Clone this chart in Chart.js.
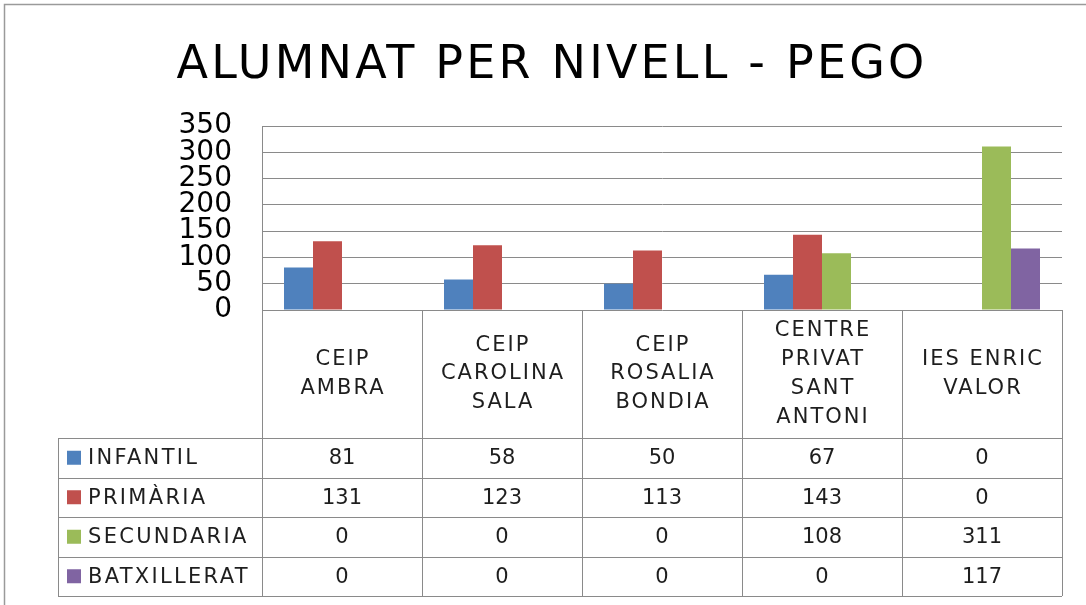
<!DOCTYPE html>
<html>
<head>
<meta charset="utf-8">
<script src="https://cdn.jsdelivr.net/npm/chart.js@4"></script>
<style>
  html, body { margin: 0; padding: 0; background: #fff; }
  #wrap { width: 1086px; height: 605px; }
</style>
</head>
<body>
<div id="wrap"><canvas id="myChart"></canvas></div>
<script>
// data
const chartTitle = "ALUMNAT PER NIVELL - PEGO";
const categories = [
    ["CEIP", "AMBRA"],
    ["CEIP", "CAROLINA", "SALA"],
    ["CEIP", "ROSALIA", "BONDIA"],
    ["CENTRE", "PRIVAT", "SANT", "ANTONI"],
    ["IES ENRIC", "VALOR"]
];
const seriesNames = ["INFANTIL", "PRIMÀRIA", "SECUNDARIA", "BATXILLERAT"];
const infantil = [81, 58, 50, 67, 0];
const primaria = [131, 123, 113, 143, 0];
const secundaria = [0, 0, 0, 108, 311];
const batxillerat = [0, 0, 0, 0, 117];
const seriesColors = ["#4F81BD", "#C0504D", "#9BBB59", "#8064A2"];

const FONT = '"DejaVu Sans", sans-serif';
const lineColor = "#8a8a8a";
const textColor = "#1e1e1e";

// white background, frame (top + left edge visible) and the title
const framePlugin = {
    id: 'frame',
    beforeDraw(chart) {
        const ctx = chart.ctx;
        ctx.save();
        ctx.fillStyle = "#fff";
        ctx.fillRect(0, 0, chart.width, chart.height);
        ctx.strokeStyle = "#9a9a9a";
        ctx.lineWidth = 1.5;
        ctx.beginPath();
        ctx.moveTo(4.5, chart.height);
        ctx.lineTo(4.5, 4.5);
        ctx.lineTo(chart.width, 4.5);
        ctx.stroke();

        // title, a bit spaced out like the original
        ctx.font = '46px ' + FONT;
        ctx.letterSpacing = '3.2px';
        ctx.fillStyle = '#000';
        ctx.textBaseline = 'alphabetic';
        ctx.textAlign = 'left';
        const w = ctx.measureText(chartTitle).width;
        ctx.fillText(chartTitle, 552 - w / 2, 78);
        ctx.restore();
    }
};

// Excel style data table under the plot
const tablePlugin = {
    id: 'dataTable',
    afterDraw(chart) {
        const { ctx, chartArea } = chart;
        const x = chart.scales.x;
        const n = chart.data.labels.length;
        const colW = chartArea.width / n;
        const top = chartArea.bottom;
        const headH = 128;
        const rowH = 39.5;
        const labelLeft = 58;
        const rows = chart.data.datasets.length;
        const bottom = top + headH + rows * rowH;

        ctx.save();
        ctx.strokeStyle = lineColor;
        ctx.lineWidth = 1;

        // vertical lines of the value columns
        for (let i = 0; i <= n; i++) {
            const px = Math.round(chartArea.left + i * colW) + 0.5;
            ctx.beginPath();
            ctx.moveTo(px, top);
            ctx.lineTo(px, bottom);
            ctx.stroke();
        }
        // left box of the legend column
        ctx.beginPath();
        ctx.moveTo(labelLeft + 0.5, top + headH);
        ctx.lineTo(labelLeft + 0.5, bottom);
        ctx.stroke();
        // horizontal lines
        for (let r = 0; r <= rows; r++) {
            const py = Math.round(top + headH + r * rowH) + 0.5;
            ctx.beginPath();
            ctx.moveTo(labelLeft, py);
            ctx.lineTo(chartArea.right, py);
            ctx.stroke();
        }

        ctx.fillStyle = textColor;
        ctx.font = '21px ' + FONT;
        ctx.textAlign = 'center';
        ctx.textBaseline = 'middle';

        // category headers
        const lineH = 28.7;
        ctx.letterSpacing = '2px';
        chart.data.labels.forEach((lab, i) => {
            const cx = x.getPixelForValue(i);
            const cy = top + headH / 2;
            lab.forEach((t, k) => {
                ctx.fillText(t, cx + 1, cy + (k - (lab.length - 1) / 2) * lineH);
            });
        });

        // rows: legend key, series name, values
        chart.data.datasets.forEach((ds, r) => {
            const cy = top + headH + r * rowH + rowH / 2;
            ctx.fillStyle = ds.backgroundColor;
            ctx.fillRect(67, cy - 7, 14, 14);
            ctx.fillStyle = textColor;
            ctx.letterSpacing = '2.3px';
            ctx.textAlign = 'left';
            ctx.fillText(ds.label, 88, cy + 1);
            ctx.letterSpacing = '0px';
            ctx.textAlign = 'center';
            ds.data.forEach((v, i) => {
                ctx.fillText(String(v), x.getPixelForValue(i), cy + 1);
            });
        });
        ctx.restore();
    }
};

const ctx = document.getElementById('myChart').getContext('2d');
new Chart(ctx, {
    type: 'bar',
    data: {
        labels: categories,
        datasets: [infantil, primaria, secundaria, batxillerat].map((d, i) => ({
            label: seriesNames[i],
            data: d,
            backgroundColor: seriesColors[i],
            borderWidth: 0,
            barPercentage: 1.0,
            categoryPercentage: 0.725
        }))
    },
    options: {
        responsive: true,
        maintainAspectRatio: false,
        animation: false,
        layout: { padding: { top: 126, left: 40, right: 24, bottom: 0 } },
        plugins: {
            legend: { display: false },
            tooltip: { enabled: false },
            title: { display: false }
        },
        scales: {
            x: {
                ticks: { display: false },
                grid: { display: false },
                border: { display: false },
                afterFit(scale) { scale.height = 295; }
            },
            y: {
                min: 0,
                max: 350,
                ticks: {
                    stepSize: 50,
                    autoSkip: false,
                    color: '#000',
                    padding: 30,
                    font: { family: FONT, size: 28, lineHeight: 1 }
                },
                grid: { color: lineColor, drawTicks: false, lineWidth: 1 },
                border: { display: true, color: lineColor },
                afterFit(scale) { scale.width = 222; }
            }
        }
    },
    plugins: [framePlugin, tablePlugin]
});
</script>
</body>
</html>
